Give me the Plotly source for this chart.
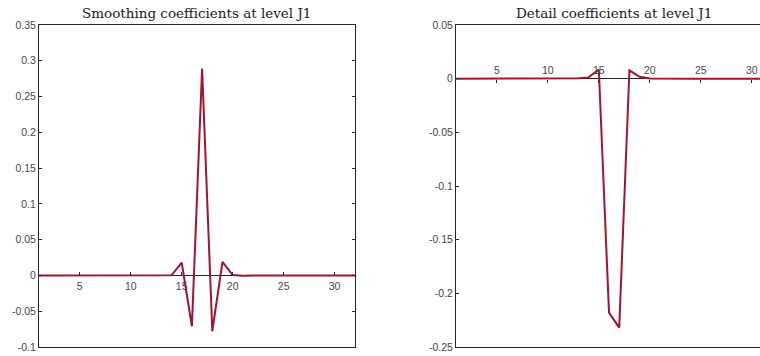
import plotly.graph_objects as go

# ---- data ----
x_idx = list(range(1, 33))
smoothing = [0, 0, 0, 0, 0, 0, 0, 0, 0, 0, 0, 0,
             -0.0004, 0.0002, 0.018, -0.071, 0.289, -0.078, 0.019, 0.0006, -0.0004,
             0, 0, 0, 0, 0, 0, 0, 0, 0, 0, 0]
detail = [0, 0, 0, 0, 0, 0, 0, 0, 0, 0, 0, 0,
          0.0003, 0.0012, 0.0085, -0.218, -0.232, 0.0078, 0.0018, 0.0002, 0,
          0, 0, 0, 0, 0, 0, 0, 0, 0, 0, 0]
x_ticks = [5, 10, 15, 20, 25, 30]
left_yticks = [-0.1, -0.05, 0, 0.05, 0.1, 0.15, 0.2, 0.25, 0.3, 0.35]
right_yticks = [-0.25, -0.2, -0.15, -0.1, -0.05, 0, 0.05]
titles = ["Smoothing coefficients at level J1", "Detail coefficients at level J1"]

left_yrange = [-0.1, 0.35]
right_yrange = [-0.25, 0.05]
left_xrange = [1, 32]
right_xrange = [1, 30.8]

LINE = "#A2142F"
AX = "#262626"
TXT = "#474747"
tickfont = dict(family="Liberation Sans, Arial, sans-serif", size=10.5, color=TXT)

W, H = 760, 356
mt, mb = 25, 9
left_dom = [39 / W, 355 / W]
right_dom = [456 / W, 1.0]

fig = go.Figure()
fig.add_trace(go.Scatter(x=x_idx, y=smoothing, mode="lines",
                         line=dict(color=LINE, width=2), xaxis="x", yaxis="y",
                         showlegend=False, hoverinfo="skip"))
fig.add_trace(go.Scatter(x=x_idx, y=detail, mode="lines",
                         line=dict(color=LINE, width=2), xaxis="x2", yaxis="y2",
                         showlegend=False, hoverinfo="skip"))
# invisible copies so the origin-crossing tick axes are drawn
fig.add_trace(go.Scatter(x=x_idx, y=smoothing, mode="lines", opacity=0,
                         line=dict(color=LINE, width=0), xaxis="x3", yaxis="y",
                         showlegend=False, hoverinfo="skip"))
fig.add_trace(go.Scatter(x=x_idx, y=detail, mode="lines", opacity=0,
                         line=dict(color=LINE, width=0), xaxis="x4", yaxis="y2",
                         showlegend=False, hoverinfo="skip"))

pos_left = (0 - left_yrange[0]) / (left_yrange[1] - left_yrange[0])
pos_right = (0 - right_yrange[0]) / (right_yrange[1] - right_yrange[0])

base_x = dict(showgrid=False, zeroline=False, showline=True, mirror=True,
              linecolor=AX, linewidth=1, ticks="", showticklabels=False)
base_y = dict(showgrid=False, zeroline=True, zerolinecolor=AX, zerolinewidth=1,
              showline=True, linecolor=AX, linewidth=1, ticks="inside",
              ticklen=3, tickcolor=AX, tickfont=tickfont, automargin=False)
tick_x = dict(showgrid=False, zeroline=False, showline=False,
              tickvals=x_ticks, ticks="inside", ticklen=3, tickcolor=AX,
              tickfont=tickfont, automargin=False, ticklabelstandoff=3)

fig.update_layout(
    width=W, height=H,
    margin=dict(l=0, r=0, t=mt, b=mb),
    paper_bgcolor="white", plot_bgcolor="white",
    xaxis=dict(base_x, domain=left_dom, range=left_xrange, anchor="y"),
    yaxis=dict(base_y, domain=[0, 1], range=left_yrange, anchor="x",
               tickvals=left_yticks, ticktext=[f"{v:g}" for v in left_yticks],
               mirror="ticks"),
    xaxis2=dict(base_x, domain=right_dom, range=right_xrange, anchor="y2"),
    yaxis2=dict(base_y, domain=[0, 1], range=right_yrange, anchor="x2",
                tickvals=right_yticks, ticktext=[f"{v:g}" for v in right_yticks],
                mirror=False),
    xaxis3=dict(tick_x, overlaying="x", anchor="free", position=pos_left,
                side="bottom", range=left_xrange, domain=left_dom),
    xaxis4=dict(tick_x, overlaying="x2", anchor="free", position=pos_right,
                side="top", range=right_xrange, domain=right_dom),
)

title_font = dict(family="DejaVu Serif, Liberation Serif, serif", size=13.5, color="#1a1a1a")
fig.add_annotation(text=titles[0], xref="paper", yref="paper",
                   x=(39 + 355) / 2 / W, y=1, yshift=12, showarrow=False,
                   xanchor="center", yanchor="middle", font=title_font)
fig.add_annotation(text=titles[1], xref="paper", yref="paper",
                   x=614 / W, y=1, yshift=12, showarrow=False,
                   xanchor="center", yanchor="middle", font=title_font)

fig.write_html("out.html", config={"displayModeBar": False},
               post_script="document.body.style.margin='0';document.body.style.overflow='hidden';")
